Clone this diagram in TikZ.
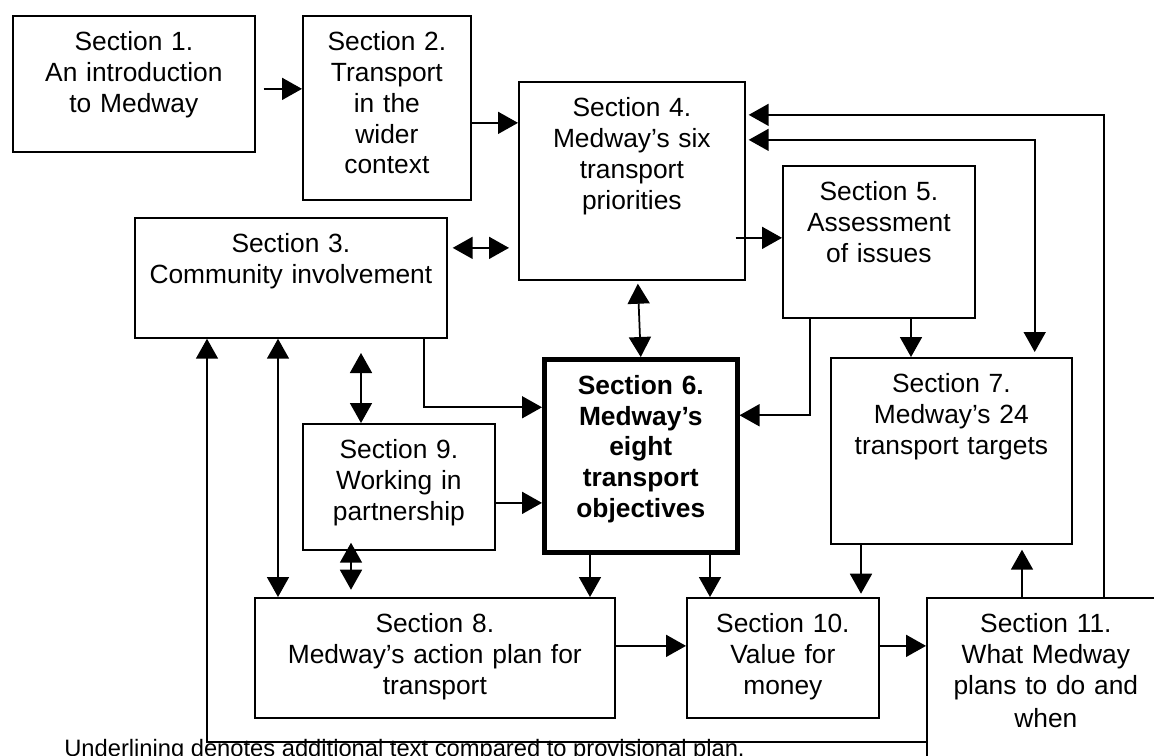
\documentclass[tikz,border=0pt]{standalone}
\usepackage{fontspec}
\setmainfont{Liberation Sans}
\usetikzlibrary{arrows.meta, calc}

\begin{document}
\begin{tikzpicture}[
    x=0.02cm, y=-0.02cm,
    sec_box/.style={draw, line width=1pt, anchor=north west, inner sep=0pt, align=center, text height=0.7cm, font=\fontsize{15}{17.5}\selectfont},
    key_box/.style={sec_box, line width=2.6pt, font=\fontsize{15}{17.5}\selectfont\bfseries},
    arrow/.style={-{Triangle[length=0.4cm, width=0.44cm]}, line width=1pt},
    both_arrow/.style={{Triangle[length=0.4cm, width=0.44cm]}-{Triangle[length=0.4cm, width=0.44cm]}, line width=1pt}
]
    \useasboundingbox (0,0) rectangle (1154,755);

    % Section boxes (placed by their top left corners)
    \node[sec_box, text width=4.84cm, text depth=2.02cm] (sec1) at (12,15) {Section 1.\\An introduction\\to Medway};
    \node[sec_box, text width=3.36cm, text depth=2.98cm] (sec2) at (302,15) {Section 2.\\Transport\\in the\\wider\\context};
    \node[sec_box, text width=6.24cm, text depth=1.70cm] (sec3) at (134,217) {Section 3.\\Community involvement};
    \node[sec_box, text width=4.52cm, text depth=3.26cm] (sec4) at (518,81) {Section 4.\\Medway’s six\\transport\\priorities};
    \node[sec_box, text width=3.84cm, text depth=2.34cm] (sec5) at (782,165) {Section 5.\\Assessment\\of issues};
    \node[key_box, text width=3.86cm, text depth=3.16cm] (sec6) at (542,357) {Section 6.\\Medway’s\\eight\\transport\\objectives};
    \node[sec_box, text width=4.82cm, text depth=3.02cm] (sec7) at (830,357) {Section 7.\\Medway’s 24\\transport targets};
    \node[sec_box, text width=7.20cm, text depth=1.70cm] (sec8) at (254,597) {Section 8.\\Medway’s action plan for\\transport};
    \node[sec_box, text width=3.84cm, text depth=1.82cm] (sec9) at (302,423) {Section 9.\\Working in\\partnership};
    \node[sec_box, text width=3.84cm, text depth=1.70cm] (sec10) at (686,597) {Section 10.\\Value for\\money};
    \node[sec_box, text width=4.76cm, text depth=2.86cm] (sec11) at (926,597) {Section 11.\\What Medway\\plans to do and\\[0.05cm]when};

    % Footnote
    \node[anchor=base west, inner sep=0pt, font=\fontsize{13.5}{16}\selectfont] (note) at (64,756) {Underlining denotes additional text compared to provisional plan.};

    % Top row
    \draw[arrow] ($(sec1.east)+(8,5)$) -- ($(sec1.east -| sec2.west)+(0,5)$);
    \draw[arrow] ($(sec2.east)+(0,15)$) -- ($(sec2.east -| sec4.west)+(0,15)$);
    \draw[both_arrow] ($(sec3.east)+(5,-30)$) -- ($(sec3.east -| sec4.west)+(-9,-30)$);
    \draw[arrow] ($(sec5.west -| sec4.east)+(-10,-4)$) -- ($(sec5.west)+(0,-4)$);

    % Loops back into section 4
    \draw[arrow] ($(sec11.north west)+(178,0)$) |- ($(sec4.east)+(3,-66)$);
    \draw[both_arrow] ($(sec4.east)+(3,-41)$) -| ($(sec7.north east)+(-38,-5)$);

    % Into section 6
    \draw[both_arrow] ($(sec4.south)+(6,3)$) -- (sec6.north);
    \draw[arrow] ($(sec5.south west)+(28,0)$) |- ($(sec6.east)+(0,-40.5)$);
    \draw[arrow] ($(sec3.south east)+(-24,0)$) |- ($(sec6.west)+(0,-48.5)$);
    \draw[arrow] ($(sec9.east)+(0,16)$) -- ($(sec9.east -| sec6.west)+(0,16)$);
    \draw[arrow] ($(sec5.south west)+(129,0)$) -- ($(sec7.north west)+(81,0)$);

    % Section 3 and section 9 links
    \draw[both_arrow] ($(sec9.north west)+(59,-70)$) -- ($(sec9.north west)+(59,0)$);
    \draw[both_arrow] ($(sec9.south west)+(49,-8)$) -- ($(sec9.south west)+(49,39)$);
    \draw[both_arrow] ($(sec3.south west)+(144,0)$) -- ($(sec8.north west)+(24,0)$);
    \draw[arrow] ($(sec11.west)+(0,55)$) -| ($(sec3.south west)+(73,0)$);

    % Bottom row
    \draw[arrow] ($(sec6.south west)+(48,0)$) -- ($(sec8.north west)+(336,0)$);
    \draw[arrow] ($(sec6.south west)+(168,0)$) -- ($(sec10.north west)+(24,0)$);
    \draw[arrow] ($(sec7.south west)+(31,0)$) -- ($(sec7.south west)+(31,49)$);
    \draw[arrow] ($(sec11.north west)+(96,0)$) -- ($(sec7.south west)+(192,5)$);
    \draw[arrow] ($(sec8.east)+(0,-12)$) -- ($(sec8.east -| sec10.west)+(0,-12)$);
    \draw[arrow] ($(sec10.east)+(0,-12)$) -- ($(sec10.east -| sec11.west)+(0,-12)$);

\end{tikzpicture}
\end{document}
